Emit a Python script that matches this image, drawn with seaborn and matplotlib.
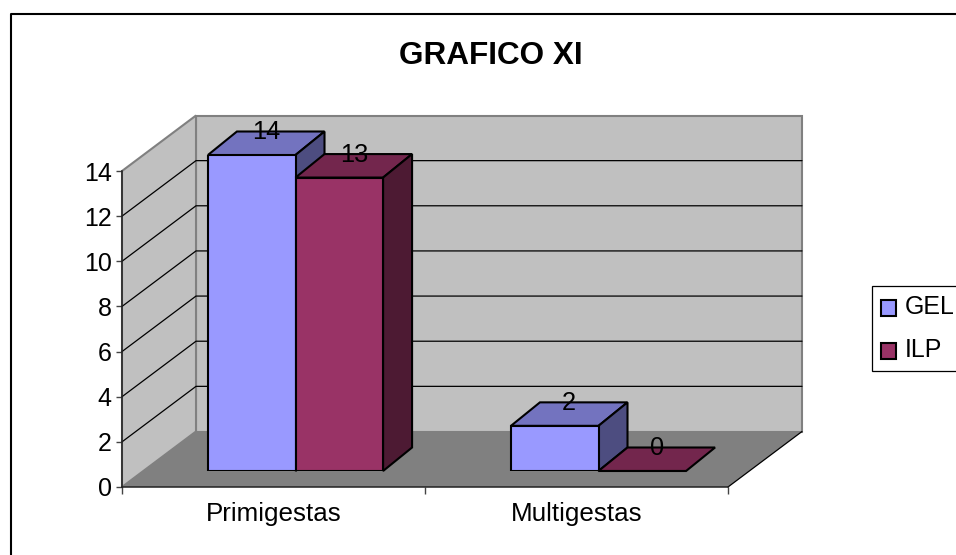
import matplotlib
matplotlib.use('Agg')
import matplotlib.pyplot as plt
from matplotlib.lines import Line2D
from matplotlib.patches import Patch, Polygon
import pandas as pd
import seaborn as sns

# Chart values
categories = ['Primigestas', 'Multigestas']
gel_values = [14, 2]
ilp_values = [13, 0]
y_ticks = [0, 2, 4, 6, 8, 10, 12, 14]
title = 'GRAFICO XI'

# Colours: front / top / side of each series
gel_colors = ['#9999FF', '#7373BF', '#4D4D80']
ilp_colors = ['#993366', '#73264D', '#4D1A33']
wall_color = '#C0C0C0'
floor_color = '#808080'

sns.set_style('white')
plt.rcParams['font.family'] = ['Liberation Sans', 'DejaVu Sans']
plt.rcParams['font.size'] = 18

W, H = 956, 555
fig = plt.figure(figsize=(W / 100, H / 100), dpi=100)


def px_axes(left, right, top, bottom):
    return fig.add_axes([left / W, 1 - bottom / H, (right - left) / W, (bottom - top) / H])


# Front plane of the box (ticks and labels live here)
ax = px_axes(122, 728, 171, 487)
ax.set_xlim(-0.5, 1.5)
ax.set_ylim(0, 14)
ax.patch.set_visible(False)
px_x = 606 / 2   # pixels per category
px_y = 316 / 14  # pixels per y unit

# Depth of the walls in data units
wd_x = 74 / px_x
wd_y = 55.5 / px_y
x0, x1 = -0.5, 1.5
bx0, bx1 = x0 + wd_x, x1 + wd_x

# Back wall, left wall, floor
ax.add_patch(Polygon([(bx0, wd_y), (bx1, wd_y), (bx1, 14 + wd_y), (bx0, 14 + wd_y)],
                     fc=wall_color, ec=floor_color, lw=1.5, clip_on=False, zorder=0))
ax.add_patch(Polygon([(x0, 0), (bx0, wd_y), (bx0, 14 + wd_y), (x0, 14)],
                     fc=wall_color, ec=floor_color, lw=1.5, clip_on=False, zorder=0))
ax.add_patch(Polygon([(x0, 0), (x1, 0), (bx1, wd_y), (bx0, wd_y)],
                     fc=floor_color, ec='none', clip_on=False, zorder=0.5))
ax.plot([x1, bx1], [0, wd_y], color='black', lw=0.9, clip_on=False, zorder=0.6)

# Gridlines wrap round the left and back walls
for v in y_ticks[1:-1]:
    ax.plot([x0, bx0, bx1], [v, v + wd_y, v + wd_y], color='black', lw=0.9,
            clip_on=False, zorder=0.6)

for side in ['top', 'right']:
    ax.spines[side].set_visible(False)
for side in ['left', 'bottom']:
    ax.spines[side].set_linewidth(1.1)
    ax.spines[side].set_color('#222222')

ax.set_yticks(y_ticks)
ax.set_xticks([-0.5, 0.5, 1.5])
ax.set_xticklabels([])
ax.set_xticks([0, 1], minor=True)
ax.set_xticklabels(categories, minor=True)
ax.tick_params(axis='x', which='major', length=5, width=1, bottom=True, color='#444444')
ax.tick_params(axis='x', which='minor', length=0, pad=11, labelsize=18.7, labelcolor='black')
ax.tick_params(axis='y', length=4, width=1, left=True, pad=3.5, labelsize=18, labelcolor='black',
               color='#444444')

# Bars sit in the middle of the box, so their axes is shifted back
shift_x, shift_y = 22, 16
ax_bars = px_axes(122 + shift_x, 728 + shift_x, 171 - shift_y, 487 - shift_y)
df = pd.DataFrame({
    'category': categories * 2,
    'value': gel_values + ilp_values,
    'series': ['GEL'] * len(categories) + ['ILP'] * len(categories),
})
sns.barplot(data=df, x='category', y='value', hue='series', order=categories,
            palette=[gel_colors[0], ilp_colors[0]], saturation=1, width=0.578, gap=0,
            edgecolor='black', linewidth=1.5, legend=False, ax=ax_bars)
ax_bars.set_xlim(-0.5, 1.5)
ax_bars.set_ylim(0, 14)
ax_bars.axis('off')

# Top and side faces built from the bars seaborn drew
bd_x = 29 / px_x
bd_y = 23.5 / px_y
bars = [p for p in ax_bars.patches]
n_cat = len(categories)
series_styles = [gel_colors] * n_cat + [ilp_colors] * n_cat
for i, (bar, colors) in enumerate(zip(bars, series_styles)):
    base_z = 2 if i < n_cat else 4
    l, r = bar.get_x(), bar.get_x() + bar.get_width()
    h = bar.get_height()
    bar.set_zorder(base_z + 1)
    ax_bars.add_patch(Polygon([(l, h), (r, h), (r + bd_x, h + bd_y), (l + bd_x, h + bd_y)],
                              fc=colors[1], ec='black', lw=1.5, clip_on=False, zorder=base_z))
    if h > 0:
        ax_bars.add_patch(Polygon([(r, 0), (r + bd_x, bd_y), (r + bd_x, h + bd_y), (r, h)],
                                  fc=colors[2], ec='black', lw=1.5, clip_on=False, zorder=base_z))
    ax_bars.annotate(f'{h:g}', ((l + r) / 2 + bd_x / 2, h + bd_y), xytext=(0, -0.7),
                     textcoords='offset points', ha='center', va='center',
                     fontsize=18.3, color='black', zorder=10, annotation_clip=False)

fig.text(491 / W, 1 - 56 / H, title, ha='center', va='center', fontsize=22.7, fontweight='bold',
         color='black')

# Legend reaches the right edge as in the source picture
handles = [Patch(fc=gel_colors[0], ec='black', lw=1.5), Patch(fc=ilp_colors[0], ec='black', lw=1.5)]
leg = fig.legend(handles, ['GEL', 'ILP'], loc='upper left', bbox_to_anchor=(872 / W, 1 - 286.5 / H),
                 fontsize=18, frameon=True, fancybox=False, edgecolor='black', framealpha=1,
                 handlelength=0.6, handleheight=0.6, handletextpad=0.35, borderpad=0.35,
                 borderaxespad=0, labelspacing=0.75, labelcolor='black')
leg.get_frame().set_linewidth(0.9)
for handle in leg.legend_handles:
    handle.set_y(handle.get_y() - 2)

# Outer chart frame: only left and top fit inside the image
fig.add_artist(Line2D([10.5 / W, 10.5 / W, 1], [0, 1 - 14 / H, 1 - 14 / H], color='black', lw=1.5))

fig.savefig('out.png', dpi=100)
plt.close(fig)
